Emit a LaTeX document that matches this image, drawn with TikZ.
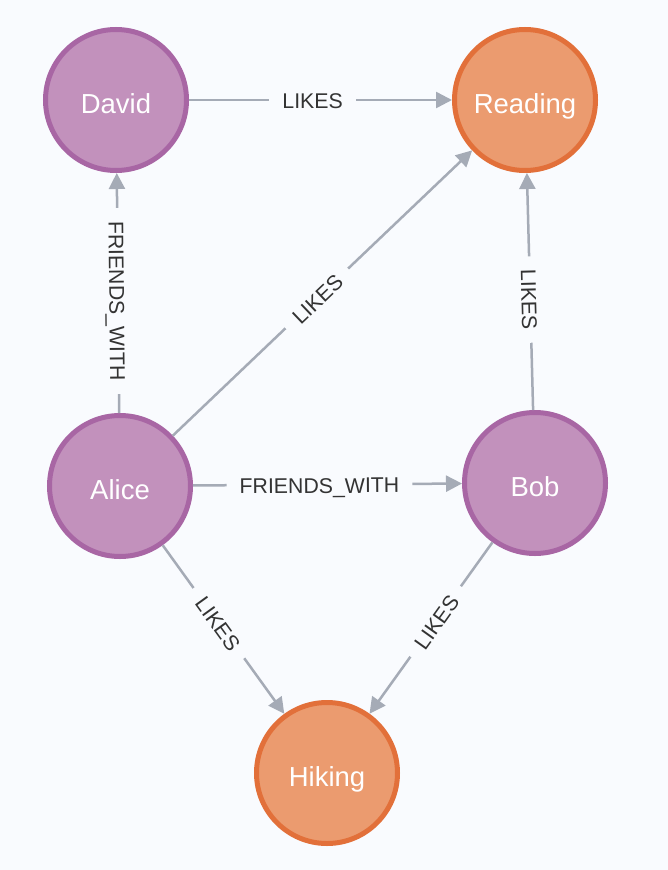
\documentclass[tikz,border=0pt]{standalone}
\usepackage{fontspec}
\setmainfont{Liberation Sans}
\usetikzlibrary{arrows.meta}
\definecolor{bg}{HTML}{F9FBFE}
\definecolor{pfill}{HTML}{C291BC}
\definecolor{pline}{HTML}{A866A4}
\definecolor{ofill}{HTML}{EB9B6F}
\definecolor{oline}{HTML}{E2703A}
\definecolor{edgec}{HTML}{A5ABB6}
\definecolor{ltext}{HTML}{333333}
\begin{document}
\begin{tikzpicture}[x=1pt,y=-1pt,
  entity/.style={circle, line width=5pt, minimum size=141pt, inner sep=0pt,
    text=white, font=\fontsize{27.5}{30}\selectfont, text height=19.7pt, text depth=0pt},
  person/.style={entity, fill=pfill, draw=pline},
  hobby/.style={entity, fill=ofill, draw=oline},
  rel/.style={draw=edgec, line width=2.5pt, -{Triangle[length=16pt,width=16pt]}},
  rlab/.style={fill=bg, text=ltext, font=\fontsize{21.3}{24}\selectfont,
    inner xsep=13pt, inner ysep=3pt, text height=15.3pt, text depth=0pt}]
\useasboundingbox[fill=bg] (0,0) rectangle (668,870);
\node[person] (david) at (116,100) {\raisebox{-4pt}{David}};
\node[hobby] (reading) at (525,100) {\raisebox{-4pt}{Reading}};
\node[person] (alice) at (120,486) {\raisebox{-4pt}{Alice}};
\node[person] (bob) at (535,483) {\raisebox{-4pt}{Bob}};
\node[hobby] (hiking) at (327,773) {\raisebox{-4pt}{Hiking}};

\draw[rel] (david) -- node[rlab, pos=0.47] (l1) {\raisebox{-1pt}{LIKES}} (reading);
\draw[rel] (alice) -- node[rlab, pos=0.467, rotate=-89.4] (l2) {\raisebox{-1pt}{FRIENDS\_WITH}} (david);
\draw[rel] (alice) -- node[rlab, pos=0.481, rotate=43.6] (l3) {\raisebox{-1pt}{LIKES}} (reading);
\draw[rel] (alice) -- node[rlab, pos=0.47, rotate=0.4] (l4) {\raisebox{-1pt}{FRIENDS\_WITH}} (bob);
\draw[rel] (bob) -- node[rlab, pos=0.466, rotate=-88.5] (l5) {\raisebox{-1pt}{LIKES}} (reading);
\draw[rel] (alice) -- node[rlab, pos=0.462, rotate=-54.2] (l6) {\raisebox{-1pt}{LIKES}} (hiking);
\draw[rel] (bob) -- node[rlab, pos=0.462, rotate=54.4] (l7) {\raisebox{-1pt}{LIKES}} (hiking);
\end{tikzpicture}
\end{document}
